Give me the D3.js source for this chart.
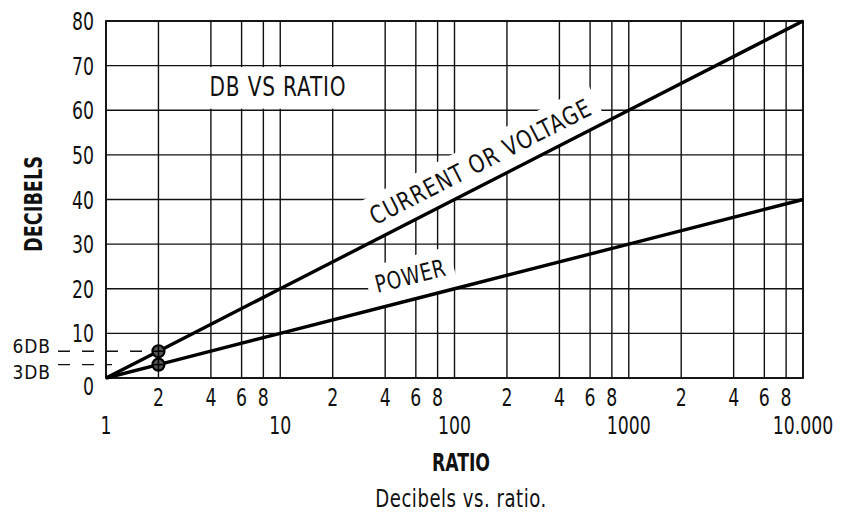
<!DOCTYPE html>
<html>
<head>
<meta charset="utf-8">
<script src="https://cdn.jsdelivr.net/npm/d3@7"></script>
<style>
  html, body { margin: 0; padding: 0; background: #fff; }
  svg { display: block; }
  text { font-family: 'DejaVu Sans Condensed', 'Liberation Sans Narrow', sans-serif; fill: #111; }
</style>
</head>
<body>
<svg id="chart" width="843" height="516"></svg>
<script>
// ---- data ----
const ratios = [1, 2, 10, 100, 1000, 10000];
const currentDb = [0, 6, 20, 40, 60, 80];
const powerDb = [0, 3, 10, 20, 30, 40];
const yTicks = [0, 10, 20, 30, 40, 50, 60, 70, 80];
const majorTicks = [1, 10, 100, 1000, 10000];
const majorLabels = ["1", "10", "100", "1000", "10.000"];
const minorTicks = [2, 4, 6, 8, 20, 40, 60, 80, 200, 400, 600, 800, 2000, 4000, 6000, 8000];
const minorLabels = ["2", "4", "6", "8", "2", "4", "6", "8", "2", "4", "6", "8", "2", "4", "6", "8"];
const refLabels = ["6DB", "3DB"];
const refRatio = 2;
const title = "DB VS RATIO";
const xTitle = "RATIO";
const yTitle = "DECIBELS";
const caption = "Decibels vs. ratio.";
const curveLabels = ["CURRENT OR VOLTAGE", "POWER"];

// ---- layout ----
const svg = d3.select("#chart");
const x = d3.scaleLog().domain([1, 10000]).range([106, 803]);
const y = d3.scaleLinear().domain([0, 80]).range([378, 21]);
const ink = "#111";

// condensed text helper
function txt(parent, str, px, py, o) {
  const gg = parent.append("g")
    .attr("transform", `translate(${px},${py}) rotate(${o.rot || 0}) scale(${o.sx || 0.8},1)`);
  return gg.append("text").text(str)
    .attr("text-anchor", o.anchor || "start")
    .attr("font-size", o.size || 24)
    .attr("font-weight", o.weight || "normal")
    .attr("letter-spacing", o.ls || 0);
}

// grid
const g = svg.append("g");
g.selectAll("line.v").data(majorTicks.concat(minorTicks)).join("line")
  .attr("x1", d => x(d)).attr("x2", d => x(d))
  .attr("y1", y(0)).attr("y2", y(80))
  .attr("stroke", ink).attr("stroke-width", 1.4);
g.selectAll("line.h").data(yTicks).join("line")
  .attr("x1", x(1)).attr("x2", x(10000))
  .attr("y1", d => y(d)).attr("y2", d => y(d))
  .attr("stroke", ink).attr("stroke-width", 1.4);

// mask for title band
svg.append("rect")
  .attr("x", x(2.3)).attr("y", y(70) + 1.5)
  .attr("width", x(39) - x(2.3)).attr("height", y(60) - y(70) - 3)
  .attr("fill", "#fff");
txt(svg, title, x(9.7), y(65.5) + 10, { anchor: "middle", size: 26, sx: 0.86, ls: 1 });

// curve labels with masks
function curveLabel(vals, text, startRatio, off, fs, sx, ls) {
  const ang = Math.atan2(y(vals[vals.length - 1]) - y(vals[0]), x(ratios[ratios.length - 1]) - x(ratios[0])) * 180 / Math.PI;
  const slopeDb = (vals[vals.length - 1] - vals[0]) / Math.log10(ratios[ratios.length - 1]);
  const px = x(startRatio), py = y(slopeDb * Math.log10(startRatio));
  const grp = svg.append("g").attr("transform", `translate(${px},${py}) rotate(${ang})`);
  const rect = grp.append("rect").attr("fill", "#fff");
  const t = txt(grp, text, 0, -off, { size: fs, sx: sx, ls: ls });
  const w = t.node().getComputedTextLength() * sx;
  rect.attr("x", -8).attr("y", -off - fs * 0.73 - 10).attr("width", w + 16).attr("height", off + fs * 0.73 + 10);
}
curveLabel(currentDb, curveLabels[0], 38, 13, 25, 0.88, 1.3);
curveLabel(powerDb, curveLabels[1], 38, 15, 24, 0.86, 0.8);

// border
svg.append("rect").attr("x", x(1)).attr("y", y(80))
  .attr("width", x(10000) - x(1)).attr("height", y(0) - y(80))
  .attr("fill", "none").attr("stroke", ink).attr("stroke-width", 1.8);

// reference dashed lines
svg.append("line").attr("x1", 58).attr("x2", x(refRatio) - 6)
  .attr("y1", y(currentDb[1])).attr("y2", y(currentDb[1]))
  .attr("stroke", ink).attr("stroke-width", 1.4).attr("stroke-dasharray", "12,12");
svg.append("line").attr("x1", 58).attr("x2", x(1) + 6)
  .attr("y1", y(powerDb[1])).attr("y2", y(powerDb[1]))
  .attr("stroke", ink).attr("stroke-width", 1.4).attr("stroke-dasharray", "12,12");
[currentDb[1], powerDb[1]].forEach((d, i) => {
  txt(svg, refLabels[i], 51, i === 0 ? y(d) + 2 : y(d) + 14, { anchor: "end", size: 20, sx: 0.95, ls: 1 });
});

// series lines
const line = d3.line().x((d, i) => x(ratios[i])).y(d => y(d));
[currentDb, powerDb].forEach(vals => {
  svg.append("path").attr("d", line(vals))
    .attr("fill", "none").attr("stroke", "#000").attr("stroke-width", 3.4);
});

// reference points
[currentDb[1], powerDb[1]].forEach(v => {
  const cx = x(refRatio), cy = y(v);
  svg.append("circle").attr("cx", cx).attr("cy", cy).attr("r", 6)
    .attr("fill", "#555").attr("stroke", "#000").attr("stroke-width", 2.2);
  svg.append("line").attr("x1", cx - 6).attr("x2", cx + 6).attr("y1", cy).attr("y2", cy)
    .attr("stroke", "#000").attr("stroke-width", 1.5);
  svg.append("line").attr("x1", cx).attr("x2", cx).attr("y1", cy - 6).attr("y2", cy + 6)
    .attr("stroke", "#000").attr("stroke-width", 1.5);
});

// y tick labels
yTicks.forEach(d => {
  txt(svg, String(d), 94, y(d) + (d === 0 ? 17 : 9), { anchor: "end", size: 24, sx: 0.8 });
});

// x tick labels
minorTicks.forEach((d, i) => {
  txt(svg, minorLabels[i], x(d), 406, { anchor: "middle", size: 24, sx: 0.8 });
});
majorTicks.forEach((d, i) => {
  txt(svg, majorLabels[i], x(d), 434, { anchor: "middle", size: 24, sx: 0.8 });
});

// axis titles
txt(svg, xTitle, 461, 471, { anchor: "middle", size: 24, weight: "bold", sx: 0.8 });
txt(svg, yTitle, 42, 204, { anchor: "middle", size: 24, weight: "bold", sx: 0.82, rot: -90 });
txt(svg, caption, 461, 507, { anchor: "middle", size: 24, sx: 0.84, ls: 0.6 });
</script>
</body>
</html>
